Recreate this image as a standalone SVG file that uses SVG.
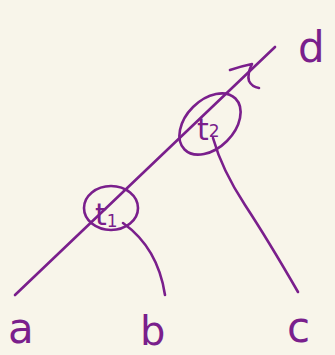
<svg xmlns="http://www.w3.org/2000/svg" width="335" height="355" viewBox="0 0 335 355">
<style>
.s{fill:none;stroke:#7a1f8c;stroke-width:2.6;stroke-linecap:round;stroke-linejoin:round}
.l{fill:#7a1f8c;font-family:"DejaVu Sans",sans-serif}
</style>
<rect width="335" height="355" fill="#f8f5ea"/>
<g id="connectors">
<path class="s" d="M15,295 L275,47"/>
<path class="s" d="M230,70 Q242,66 252,64 Q247,74 249,81 Q252,87 259,88"/>
<path class="s" d="M123,223 Q158,248 165,295"/>
<path class="s" d="M213,138 Q222,170 245,205 Q268,240 298,292"/>
</g>
<g id="t1">
<ellipse class="s" cx="111" cy="208" rx="27" ry="22"/>
<text class="l" x="95" y="225" font-size="30">t<tspan font-size="17" dy="2">1</tspan></text>
</g>
<g id="t2">
<ellipse class="s" cx="210" cy="124" rx="36" ry="24" transform="rotate(-45 210 124)"/>
<text class="l" x="197" y="140" font-size="30">t<tspan font-size="17" dy="-3">2</tspan></text>
</g>
<g id="a"><text class="l" x="8" y="343" font-size="42">a</text></g>
<g id="b"><text class="l" x="140" y="345" font-size="40">b</text></g>
<g id="c"><text class="l" x="287" y="342" font-size="42">c</text></g>
<g id="d"><text class="l" x="298" y="62" font-size="42">d</text></g>
</svg>
